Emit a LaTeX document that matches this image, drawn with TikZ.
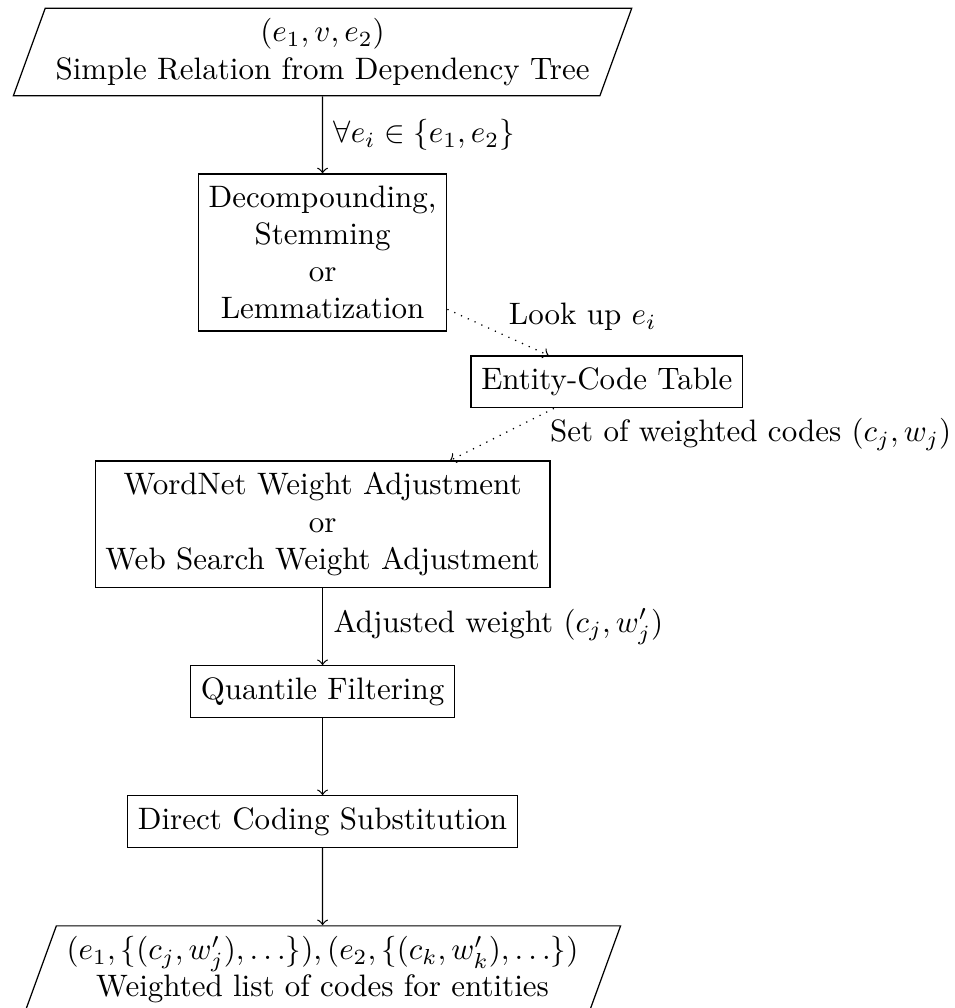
\documentclass[tikz,border=0pt]{standalone}
\usetikzlibrary{shapes,arrows,positioning,calc}

\begin{document}
\begin{tikzpicture}[
    node distance=0.873cm,
    process/.style={draw, rectangle, align=center, inner ysep=3.8pt},
    io/.style={draw, trapezium, trapezium left angle=70, trapezium right angle=110, align=center},
    flow/.style={->},
    lookup/.style={->, dotted}
]

    % Frame (the output shape runs off the bottom)
    \useasboundingbox (0,0) rectangle (10.817,-11.429);

    % Nodes
    \node[io] (rel) at (3.657,-0.590) {$(e_1, v, e_2)$\\ Simple Relation from Dependency Tree};
    \node[process, below=of rel] (stem) {Decompounding,\\ Stemming\\ or\\ Lemmatization};
    \node[process, below right=0.27cm and 0.26cm of stem] (table) {Entity-Code Table};
    \node[process, below=1.46cm of stem] (adjust) {WordNet Weight Adjustment\\ or\\ Web Search Weight Adjustment};
    \node[process, below=of adjust] (quant) {Quantile Filtering};
    \node[process, below=of quant] (direct) {Direct Coding Substitution};
    \node[io, below=of direct] (codes) {$(e_1, \{(c_j, w'_j), \dots\}), (e_2, \{(c_k, w'_k), \dots\})$\\ Weighted list of codes for entities};

    % Arrows
    \draw[flow] (rel) -- (stem) node[midway, right] {$\forall e_i \in \{e_1, e_2\}$};
    \draw[lookup] (stem) -- (table) node[midway, above right, yshift=-3pt] {Look up $e_i$};
    \draw[lookup] (table) -- (adjust) node[midway, right, xshift=12pt] {Set of weighted codes $(c_j, w_j)$};
    \draw[flow] (adjust) -- (quant) node[midway, right] {Adjusted weight $(c_j, w'_j)$};
    \draw[flow] (quant) -- (direct);
    \draw[flow] (direct) -- (codes);

\end{tikzpicture}
\end{document}
